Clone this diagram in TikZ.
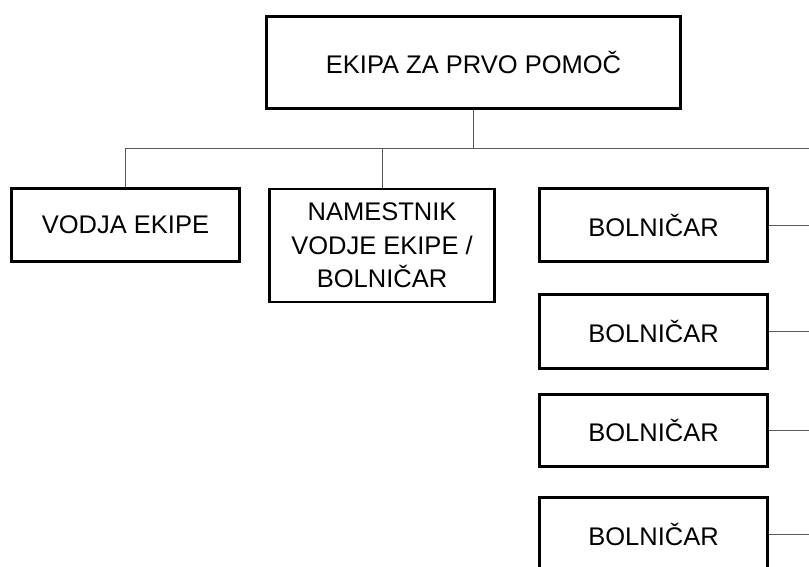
\documentclass[tikz,border=0pt]{standalone}
\usepackage{fontspec}
\setmainfont{Liberation Sans}
\begin{document}
\begin{tikzpicture}[x=1pt,y=-1pt,
  orgbox/.style={draw=black, line width=2.8pt, inner sep=0pt, align=center,
    font=\fontsize{25.5}{33.5}\selectfont, minimum width=228pt, minimum height=73pt},
  link/.style={draw=black!65, line width=0.9pt}]
\useasboundingbox (0,0) rectangle (809,566);
\clip (0,0) rectangle (809,566);
\node[orgbox, minimum width=414pt, minimum height=92pt] (top) at (473.5,62.5) {EKIPA ZA PRVO POMOČ};
\node[orgbox] (vod) at (125.5,225) {VODJA EKIPE};
\node[orgbox, minimum width=225pt, minimum height=113pt] (nam) at (382,245.5) {NAMESTNIK\\VODJE EKIPE /\\BOLNIČAR};
\node[orgbox] (b1) at (653.5,225) {BOLNIČAR};
\node[orgbox, minimum height=74pt] (b2) at (653.5,331.5) {BOLNIČAR};
\node[orgbox, minimum height=72pt] (b3) at (653.5,430.5) {BOLNIČAR};
\node[orgbox] (b4) at (653.5,534) {BOLNIČAR};
\coordinate (busR) at (809,148);
\coordinate (edge) at (809,0);
\draw[link] (top.south) -- (top.south |- busR);
\draw[link] (vod.north) |- (busR);
\draw[link] (nam.north) -- (nam.north |- busR);
\draw[link] (b1.east) -- (b1.east -| edge);
\draw[link] (b2.east) -- (b2.east -| edge);
\draw[link] (b3.east) -- (b3.east -| edge);
\draw[link] (b4.east) -- (b4.east -| edge);
\end{tikzpicture}
\end{document}
